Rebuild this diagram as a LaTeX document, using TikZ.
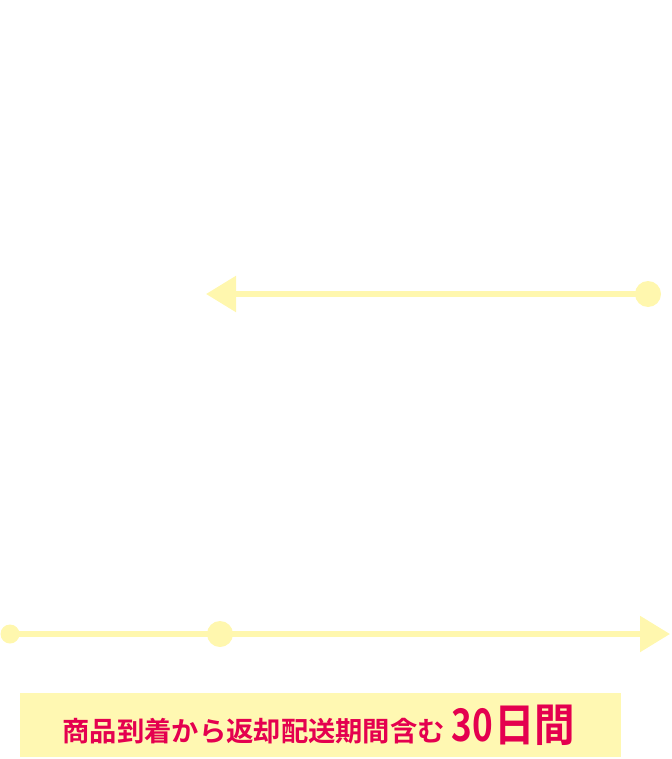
\documentclass[tikz,border=0pt]{standalone}
\usepackage{fontspec}
\newfontfamily\jpbold[BoldFont={Noto Sans CJK JP Bold}]{Noto Sans CJK JP Bold}
\usetikzlibrary{arrows.meta}
\definecolor{lineyellow}{HTML}{FFF7AE}
\definecolor{boxyellow}{HTML}{FFF8B2}
\definecolor{textred}{HTML}{E4004F}
\tikzset{
  tl/.style={draw=lineyellow, line width=5.5pt},
  bigdot/.style={circle, fill=lineyellow, inner sep=0pt, minimum size=26pt},
  smalldot/.style={circle, fill=lineyellow, inner sep=0pt, minimum size=19pt},
  headtip/.style={-{Triangle[length=30pt 0 0,width=35pt 0 0]}},
  labelbox/.style={fill=boxyellow, inner sep=0pt}
}
\begin{document}
\begin{tikzpicture}[x=1pt,y=-1pt]
\useasboundingbox (0,0) rectangle (671,759);
% top arrow
\node[bigdot] (d1) at (648,294) {};
\coordinate (t1) at (206,294);
\draw[tl, headtip] (d1.center) -- (t1);
% bottom arrow
\node[smalldot] (d2) at (10,634) {};
\node[bigdot] (d3) at (220,634) {};
\coordinate (t2) at (670,634);
\draw[tl] (d2.center) -- (d3.center);
\draw[tl, headtip] (d3.center) -- (t2);
% label box
\path[labelbox] (20,693) rectangle (621,757);
\node[anchor=base, text=textred, inner sep=0pt] (lbl) at (319,741)
  {\jpbold\fontsize{27.3pt}{30pt}\selectfont 商品到着から返却配送期間含む\hspace{7pt}{\fontsize{45pt}{48pt}\selectfont\scalebox{0.78}[1]{30}\hspace{1pt}\scalebox{0.9}[1]{日間}}};
\end{tikzpicture}
\end{document}
